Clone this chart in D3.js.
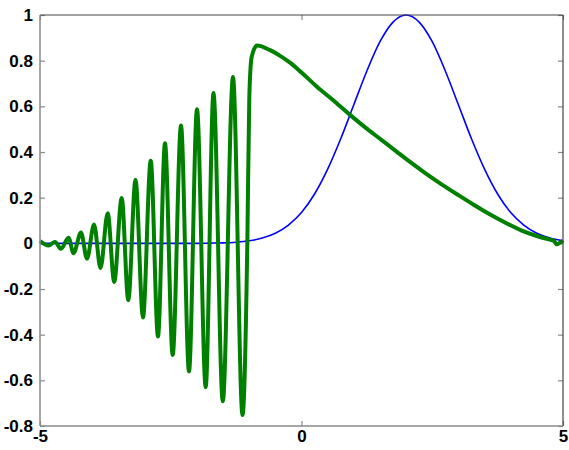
<!DOCTYPE html>
<html>
<head>
<meta charset="utf-8">
<script src="https://cdn.jsdelivr.net/npm/d3@7"></script>
<style>
  html, body { margin: 0; padding: 0; background: #fff; }
  svg { display: block; }
  .tick text { font-family: "Liberation Sans", Arial, sans-serif; font-weight: bold; font-size: 17px; fill: #000; }
</style>
</head>
<body>
<svg id="chart" width="569" height="450"></svg>
<script>
// Axis ticks
const xTicks = [-5, 0, 5];
const xTickLabels = ["-5", "0", "5"];
const yTicks = [-0.8, -0.6, -0.4, -0.2, 0, 0.2, 0.4, 0.6, 0.8, 1];
const yTickLabels = ["-0.8", "-0.6", "-0.4", "-0.2", "0", "0.2", "0.4", "0.6", "0.8", "1"];

// Blue series: bell-shaped pulse centred near x = 2
const blueX = [-5, -4.5, -4, -3.5, -3, -2.5, -2, -1.75, -1.5, -1.25, -1, -0.75, -0.5, -0.25, 0,
               0.25, 0.5, 0.75, 1, 1.25, 1.5, 1.75, 2, 2.25, 2.5, 2.75, 3, 3.25, 3.5, 3.75, 4,
               4.25, 4.5, 4.75, 5];
const blueY = [0, 0, 0, 0, 0, 0, 0, 0.001, 0.002, 0.005, 0.011, 0.023, 0.044, 0.080, 0.135,
               0.216, 0.325, 0.458, 0.607, 0.755, 0.883, 0.969, 1.0, 0.969, 0.883, 0.755, 0.607,
               0.458, 0.325, 0.216, 0.135, 0.080, 0.044, 0.023, 0.011];

// Green series: growing oscillation up to x ≈ -1, then a single crest and slow decay
const greenX = [-5, -4.837, -4.713, -4.598, -4.455, -4.359, -4.216, -4.101, -3.967, -3.843,
                -3.706, -3.581, -3.438, -3.312, -3.174, -3.031, -2.883, -2.744, -2.610, -2.463,
                -2.304, -2.151, -1.998, -1.832, -1.683, -1.505, -1.310, -1.128,
                -1.036, -0.998, -0.952, -0.85, -0.6, -0.4, -0.2, 0, 0.3, 0.6, 0.9,
                1.2, 1.5, 1.8, 2.1, 2.4, 2.7, 3.0, 3.3, 3.6, 3.9, 4.2, 4.5,
                4.75, 4.82, 4.88, 5];
const greenY = [0.010, -0.010, 0.006, -0.024, 0.025, -0.043, 0.047, -0.067, 0.083, -0.108,
                0.132, -0.169, 0.199, -0.249, 0.279, -0.325, 0.362, -0.408, 0.438, -0.489,
                0.516, -0.561, 0.587, -0.630, 0.658, -0.692, 0.728, -0.752,
                0.0, 0.64, 0.817, 0.866, 0.846, 0.820, 0.788, 0.748, 0.685, 0.628, 0.568,
                0.511, 0.458, 0.405, 0.352, 0.302, 0.255, 0.211, 0.168, 0.127, 0.090, 0.057, 0.032,
                0.016, 0.012, -0.004, 0.012];

const svg = d3.select("#chart");
const plotLeft = 40, plotRight = 563, plotTop = 15, plotBottom = 426;

const x = d3.scaleLinear().domain([-5, 5]).range([plotLeft, plotRight]);
const y = d3.scaleLinear().domain([-0.8, 1]).range([plotBottom, plotTop]);

// Axes with inward ticks on all four sides
const axisStyle = g => {
  g.select(".domain").remove();
  g.selectAll(".tick line").attr("stroke", "#8a8a8a").attr("stroke-width", 1.2);
};

svg.append("g").attr("transform", `translate(0,${plotBottom})`)
  .call(d3.axisBottom(x).tickValues(xTicks).tickSize(-5).tickPadding(4)
        .tickFormat((d, i) => xTickLabels[i]))
  .call(axisStyle);
svg.append("g").attr("transform", `translate(0,${plotTop})`)
  .call(d3.axisTop(x).tickValues(xTicks).tickSize(-5).tickFormat(""))
  .call(axisStyle);
svg.append("g").attr("transform", `translate(${plotLeft},0)`)
  .call(d3.axisLeft(y).tickValues(yTicks).tickSize(-5).tickPadding(7)
        .tickFormat((d, i) => yTickLabels[i]))
  .call(axisStyle);
svg.append("g").attr("transform", `translate(${plotRight},0)`)
  .call(d3.axisRight(y).tickValues(yTicks).tickSize(-5).tickFormat(""))
  .call(axisStyle);

svg.selectAll(".tick text").attr("fill", "#000");

// Plot lines
const line = d3.line().x(d => x(d[0])).y(d => y(d[1])).curve(d3.curveMonotoneX);

svg.append("path")
  .datum(blueX.map((v, i) => [v, blueY[i]]))
  .attr("fill", "none").attr("stroke", "#0000ff").attr("stroke-width", 1.6)
  .attr("d", line);

svg.append("path")
  .datum(greenX.map((v, i) => [v, greenY[i]]))
  .attr("fill", "none").attr("stroke", "#008000").attr("stroke-width", 4)
  .attr("stroke-linejoin", "round")
  .attr("d", line);

// Frame around the plot area
svg.append("line").attr("x1", plotLeft).attr("x2", plotRight).attr("y1", plotTop).attr("y2", plotTop)
  .attr("stroke", "#444").attr("stroke-width", 1.2);
svg.append("line").attr("x1", plotRight).attr("x2", plotRight).attr("y1", plotTop).attr("y2", plotBottom)
  .attr("stroke", "#444").attr("stroke-width", 1.2);
svg.append("line").attr("x1", plotLeft).attr("x2", plotLeft).attr("y1", plotTop).attr("y2", plotBottom)
  .attr("stroke", "#8a8a8a").attr("stroke-width", 1.5);
svg.append("line").attr("x1", plotLeft).attr("x2", plotRight).attr("y1", plotBottom).attr("y2", plotBottom)
  .attr("stroke", "#8a8a8a").attr("stroke-width", 1.5);
</script>
</body>
</html>
